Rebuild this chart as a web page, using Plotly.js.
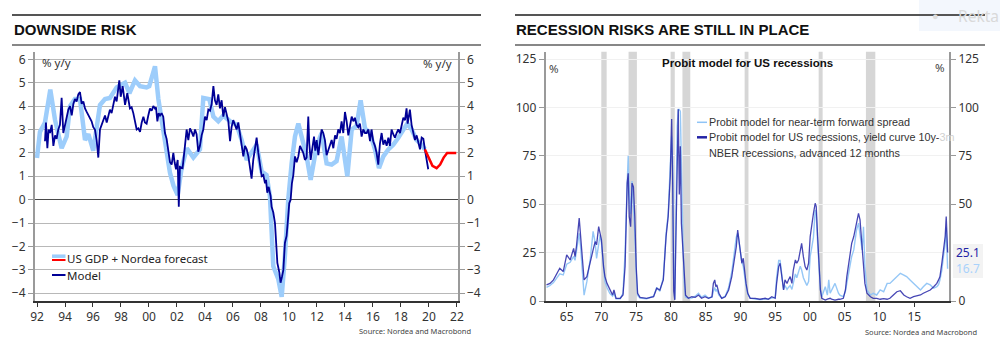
<!DOCTYPE html>
<html>
<head>
<meta charset="utf-8">
<script src="https://cdn.plot.ly/plotly-3.0.1.min.js"></script>
<style>html,body{margin:0;padding:0;background:#fff;}#chart{width:1000px;height:358px;}</style>
</head>
<body>
<div id="chart"></div>
<script>
// ---------- Left panel: DOWNSIDE RISK ----------
const gdpYears = [1992.0,1992.21,1992.57,1992.95,1993.29,1993.76,1994.12,1994.36,1994.71,1995.07,1995.43,1995.67,1996.02,1996.5,1996.86,1997.21,1997.69,1998.29,1998.6,1999.0,1999.36,1999.83,2000.02,2000.43,2000.67,2001.02,2001.5,2001.75,2002.05,2002.33,2002.7,2003.17,2003.64,2003.88,2004.31,2004.6,2004.95,2005.31,2005.79,2006.26,2006.62,2006.98,2007.33,2007.69,2008.05,2008.4,2008.64,2008.88,2009.24,2009.48,2009.71,2009.95,2010.19,2010.43,2010.67,2011.02,2011.26,2011.55,2011.98,2012.33,2012.69,2013.05,2013.4,2013.76,2014.17,2014.48,2014.83,2015.12,2015.43,2015.79,2016.14,2016.43,2016.74,2017.1,2017.45,2017.81,2018.17,2018.45,2018.76,2019.12,2019.48,2019.71];
const gdpValues = [1.78,2.9,3.3,4.7,3.4,2.2,2.7,4.0,4.3,4.3,2.55,2.8,2.1,4.05,4.3,4.35,4.8,5.0,4.55,5.1,4.85,4.8,4.85,5.7,4.3,2.85,1.15,0.6,0.2,1.35,2.2,1.8,2.15,4.35,4.3,3.55,3.35,3.6,3.35,3.2,2.55,1.7,2.0,2.35,1.2,1.05,0.15,-2.85,-3.4,-4.15,-2.4,0.0,1.55,2.7,3.25,2.5,1.85,0.85,2.3,2.85,1.55,1.5,1.65,2.7,1.0,3.0,3.15,4.25,3.05,2.85,2.15,1.35,1.85,2.15,2.35,2.65,3.0,3.25,3.0,2.55,2.35,2.15];

const forecastYears = [2019.71,2019.95,2020.25,2020.55,2020.8,2021.05,2021.3,2021.6,2021.95];
const forecastValues = [2.15,1.85,1.45,1.35,1.5,1.8,2.0,2.0,2.0];

const modelYears = [1992.57,1992.64,1992.74,1992.83,1992.93,1993.05,1993.17,1993.29,1993.4,1993.52,1993.64,1993.76,1993.88,1994.0,1994.12,1994.24,1994.36,1994.48,1994.6,1994.71,1994.83,1994.95,1995.07,1995.19,1995.31,1995.43,1995.55,1995.67,1995.79,1995.9,1996.02,1996.14,1996.26,1996.38,1996.5,1996.62,1996.74,1996.86,1996.98,1997.1,1997.21,1997.33,1997.45,1997.57,1997.69,1997.81,1997.88,1997.98,1998.12,1998.29,1998.45,1998.64,1998.76,1998.88,1999.0,1999.12,1999.24,1999.36,1999.48,1999.6,1999.71,1999.83,1999.95,2000.07,2000.19,2000.31,2000.43,2000.5,2000.6,2000.69,2000.79,2000.9,2001.02,2001.14,2001.26,2001.38,2001.5,2001.62,2001.74,2001.83,2001.93,2002.05,2002.13,2002.21,2002.4,2002.57,2002.69,2002.81,2002.93,2003.05,2003.17,2003.29,2003.4,2003.52,2003.64,2003.76,2003.88,2004.0,2004.12,2004.24,2004.36,2004.48,2004.6,2004.71,2004.83,2004.95,2005.07,2005.19,2005.31,2005.43,2005.55,2005.67,2005.79,2005.9,2006.02,2006.14,2006.26,2006.38,2006.5,2006.62,2006.74,2006.86,2006.98,2007.1,2007.21,2007.33,2007.45,2007.57,2007.69,2007.81,2007.93,2008.05,2008.17,2008.29,2008.36,2008.45,2008.55,2008.69,2008.76,2008.88,2009.0,2009.07,2009.17,2009.31,2009.4,2009.5,2009.6,2009.71,2009.83,2009.95,2010.02,2010.12,2010.21,2010.31,2010.43,2010.55,2010.67,2010.79,2010.9,2011.02,2011.14,2011.26,2011.38,2011.45,2011.55,2011.69,2011.79,2011.88,2011.98,2012.1,2012.21,2012.33,2012.45,2012.57,2012.69,2012.81,2012.93,2013.05,2013.17,2013.29,2013.4,2013.52,2013.64,2013.76,2013.88,2014.0,2014.12,2014.24,2014.36,2014.48,2014.6,2014.71,2014.83,2014.95,2015.07,2015.19,2015.31,2015.43,2015.55,2015.67,2015.79,2015.9,2016.02,2016.14,2016.26,2016.38,2016.5,2016.62,2016.74,2016.86,2016.98,2017.1,2017.21,2017.33,2017.45,2017.57,2017.69,2017.81,2017.93,2018.05,2018.17,2018.29,2018.4,2018.48,2018.57,2018.64,2018.76,2018.88,2019.0,2019.12,2019.24,2019.36,2019.48,2019.6,2019.71,2019.83,2019.95];
const modelValues = [2.5,3.3,2.2,3.0,2.85,3.2,2.3,2.75,2.6,3.0,3.2,4.35,2.85,3.2,3.6,3.85,4.0,3.6,4.1,4.3,4.2,4.5,4.6,4.1,4.2,3.9,3.75,3.6,3.45,3.35,3.1,3.0,2.55,1.8,3.0,3.2,3.4,3.6,3.3,3.55,3.85,3.7,4.1,4.4,4.2,4.7,5.1,4.4,4.85,4.05,4.55,3.9,3.95,3.7,3.4,3.0,3.05,2.9,3.3,3.55,3.3,3.25,3.6,3.9,3.8,4.0,3.9,3.95,3.35,3.7,3.6,3.7,3.55,2.85,2.6,2.15,1.6,1.5,2.0,1.6,1.3,1.7,-0.3,1.4,1.35,2.3,3.0,2.55,3.05,2.9,2.7,3.0,2.8,2.05,2.3,2.75,3.0,3.55,3.4,3.85,3.8,4.1,4.85,4.25,4.05,4.5,3.9,4.25,3.55,3.95,3.7,3.35,2.5,3.1,3.4,3.2,3.0,3.3,2.85,2.4,1.85,2.3,2.15,1.85,1.3,0.9,1.7,2.15,2.65,2.0,1.55,1.0,1.05,0.7,0.85,0.3,0.55,0.15,-0.3,-0.55,-1.0,-1.55,-2.7,-3.1,-3.55,-3.3,-3.0,-1.85,-1.55,-0.7,-0.15,0.0,0.7,1.05,1.85,1.6,1.85,2.3,2.15,2.0,1.7,1.8,3.55,2.4,1.7,2.3,2.7,2.1,2.55,1.9,2.5,3.0,2.85,2.55,1.9,2.15,2.3,2.55,2.2,2.75,2.6,3.0,2.85,3.35,2.85,3.75,3.35,2.75,3.15,3.55,3.35,3.5,3.2,3.1,3.25,2.7,3.0,2.85,2.85,3.0,2.5,3.0,2.5,2.3,2.0,1.5,2.4,2.85,2.35,2.55,2.3,2.65,2.3,3.0,2.8,2.65,2.85,3.0,2.85,3.2,3.5,3.4,3.9,3.25,3.55,3.85,3.2,2.9,2.55,2.75,2.4,2.15,2.65,2.6,2.15,1.8,1.3];

const leftTickVals = [1992,1994,1996,1998,2000,2002,2004,2006,2008,2010,2012,2014,2016,2018,2020,2022];
const leftTickText = ['92','94','96','98','00','02','04','06','08','10','12','14','16','18','20','22'];
const leftYTicks = [-4,-3,-2,-1,0,1,2,3,4,5,6];

// ---------- Right panel: RECESSION RISKS ----------
const probitYears = [1962.1,1962.6,1963.1,1963.6,1964.0,1964.5,1965.0,1965.5,1966.0,1966.2,1966.4,1966.8,1967.0,1967.3,1967.5,1967.9,1968.4,1968.8,1969.1,1969.3,1969.6,1969.8,1970.0,1970.3,1970.5,1970.8,1971.2,1971.6,1971.8,1972.1,1972.7,1973.1,1973.4,1973.7,1973.85,1974.0,1974.2,1974.4,1974.6,1974.8,1975.0,1975.2,1975.55,1976.5,1977.5,1977.95,1978.4,1978.9,1979.3,1979.6,1979.9,1980.1,1980.25,1980.4,1980.55,1980.75,1980.9,1981.05,1981.2,1981.35,1981.5,1981.7,1981.9,1982.1,1982.5,1983.0,1983.5,1983.96,1984.4,1984.9,1985.4,1985.9,1986.1,1986.3,1986.45,1986.6,1986.9,1987.3,1987.8,1988.3,1988.75,1989.1,1989.4,1989.6,1989.8,1990.0,1990.2,1990.4,1990.6,1990.8,1991.05,1991.4,1992.1,1992.8,1993.55,1994.0,1994.5,1995.0,1995.2,1995.5,1995.7,1995.95,1996.2,1996.4,1996.7,1996.9,1997.15,1997.4,1997.6,1997.9,1998.1,1998.35,1998.6,1998.8,1999.05,1999.3,1999.55,1999.8,2000.03,2000.27,2000.5,2000.75,2000.9,2001.1,2001.3,2001.5,2001.7,2002.2,2002.5,2002.7,2002.9,2003.1,2003.6,2004.1,2004.3,2004.8,2005.1,2005.3,2005.55,2005.8,2006.0,2006.3,2006.5,2006.7,2006.98,2007.2,2007.5,2007.7,2007.9,2008.2,2008.7,2009.1,2009.6,2010.1,2010.6,2011.1,2011.5,2012.0,2012.5,2013.0,2013.5,2013.9,2014.4,2014.9,2015.4,2015.9,2016.3,2016.8,2017.3,2017.8,2018.25,2018.5,2018.7,2018.97,2019.2,2019.45,2019.6,2019.7,2019.8];
const yieldCurveValues = [8.3,9.1,10.9,14.3,16.9,15.2,23.8,21.2,27.2,22.9,28.1,42.8,33.3,22.9,10.9,12.6,21.2,26.4,30.7,29.0,38.4,34.1,31.6,17.8,12.6,9.1,5.7,3.1,5.7,1.4,1.4,3.1,17.8,60.9,66,43.6,38.4,60.9,59,43.6,17.8,4.0,1.9,1.4,2.2,6.6,5.7,10.9,33.3,43.6,64.3,94,60,5,0.5,40,85,99,55,80,40,28,12,3,1.4,2.2,1.9,3.1,1.4,2.2,1.4,2.2,9.1,10.9,7.4,8.3,4.0,1.4,2.2,5.7,12.6,21.2,28.1,36.7,31.6,26.4,19.5,22.1,14.3,9.1,4.0,1.4,1.4,0.9,1.4,0.9,2.2,1.4,9.1,17.8,19.5,10.9,5.7,10.9,9.1,10.9,12.6,9.1,16.0,21.2,19.5,21.2,26.4,29.8,22.9,17.8,16,19.5,33.3,40.2,45.3,50.5,48.8,33.3,17.8,5.7,1.4,0.5,1.0,1.2,1.4,1.0,0.5,0.9,0.9,1.4,5.7,12.6,19.5,26.4,29.8,33.3,36.7,41.9,45.3,41.9,28.1,19.5,9.1,4.0,2.2,1.4,1.4,0.9,1.2,0.9,1.4,3.1,4.8,5.3,3.1,2.2,1.4,2.2,2.6,3.1,4.0,4.8,5.7,7.4,9.1,10.9,12.6,19.5,26.4,33.3,43.6,36.7,25.1];
const forwardSpreadValues = [7,8,9.5,12,14,13.5,19,20,23,21,25,35,28,15,3,10,22,36,30,22,28,34,30,18,10,7,4,2.5,4,1.2,1.2,4,25,60,75,55,45,62,50,35,15,3,1.5,1.2,2.5,7,5,12,35,45,70,85,70,10,1,50,90,99,99,98,60,35,10,2,1.5,1.5,2.5,4,2,3,1.5,2,5,7,5,6,3,1.5,2.5,7,15,25,33,35,30,25,20,18,12,8,3.5,1.5,1,0.7,1,1,1.5,2,12,21,21,12,6,8,6,7,8,6,10,14,12,15,18,16,12,10,8,10,23,28,33,47,45,30,15,6,2.2,7.4,3,10.9,4,5.7,9.1,4,3,2.2,5,9.1,14,19.5,23,26.4,32,36.7,40.2,33.3,26.4,38.4,17.8,5.7,3.1,4.0,3.1,5.7,4.8,9.1,9.1,10.9,12.6,14.3,13.4,12.6,10.9,9.1,7.4,5.7,7.4,9.1,8.3,6.6,7.4,8.5,10.9,16,23,29.8,38,30,16.7];

const recessionStart = [1969.98,1973.9,1979.95,1981.65,1990.6,2001.25,2008.05];
const recessionEnd   = [1970.75,1975.1,1980.55,1982.78,1991.15,2001.82,2009.4];

const rightTickVals = [1965,1970,1975,1980,1985,1990,1995,2000,2005,2010,2015];
const rightTickText = ['65','70','75','80','85','90','95','00','05','10','15'];
const rightYTicks = [0,25,50,75,100,125];
const rightYTicksOuter = [0,50,75,100,125];
const lastLabels = [25.1, 16.7];

// ---------- helpers (pixel -> paper) ----------
const W = 1000, H = 358;
const X = p => p / W;
const Y = p => 1 - p / H;

const FONT = 'Noto Sans, Liberation Sans, Arial, sans-serif';
const TITLEFONT = 'Liberation Sans, Arial, sans-serif';
const NAVY = '#000096';
const LIGHT = '#9dcdfb';
const yDom = [Y(301), Y(51.7)];

const traces = [
  {x: gdpYears, y: gdpValues, xaxis: 'x', yaxis: 'y', mode: 'lines',
   line: {color: LIGHT, width: 4.5}, hoverinfo: 'skip'},
  {x: modelYears, y: modelValues, xaxis: 'x', yaxis: 'y', mode: 'lines',
   line: {color: NAVY, width: 1.8}, hoverinfo: 'skip'},
  {x: forecastYears, y: forecastValues, xaxis: 'x', yaxis: 'y2', mode: 'lines',
   line: {color: '#ff0000', width: 2.5}, hoverinfo: 'skip'},
  {x: probitYears, y: forwardSpreadValues, xaxis: 'x3', yaxis: 'y3', mode: 'lines',
   line: {color: '#8fc4f6', width: 1.4}, opacity: 0.95, hoverinfo: 'skip'},
  {x: probitYears, y: yieldCurveValues, xaxis: 'x3', yaxis: 'y4', mode: 'lines',
   line: {color: '#2727a8', width: 1.3}, opacity: 0.85, hoverinfo: 'skip'}
];

const tickFont = {family: FONT, size: 12, color: '#333'};

const shapes = [];
// heading rules
[[12, 481], [515, 985]].forEach(([a, b]) => {
  shapes.push({type: 'line', xref: 'paper', yref: 'paper', x0: X(a), x1: X(b), y0: Y(15), y1: Y(15), line: {color: '#555', width: 2}});
  shapes.push({type: 'line', xref: 'paper', yref: 'paper', x0: X(a), x1: X(b), y0: Y(45), y1: Y(45), line: {color: '#111', width: 1.2}});
});
// recession bands
recessionStart.forEach((s, i) => {
  shapes.push({type: 'rect', xref: 'x3', yref: 'paper', x0: s, x1: recessionEnd[i], y0: yDom[0], y1: yDom[1],
    fillcolor: '#d6d6d6', line: {width: 0}, layer: 'below'});
});
// left legend symbols
shapes.push({type: 'line', xref: 'paper', yref: 'paper', x0: X(52), x1: X(65.5), y0: Y(256.2), y1: Y(256.2), line: {color: LIGHT, width: 3.5}});
shapes.push({type: 'line', xref: 'paper', yref: 'paper', x0: X(52), x1: X(65.5), y0: Y(260), y1: Y(260), line: {color: '#ff0000', width: 2}});
shapes.push({type: 'line', xref: 'paper', yref: 'paper', x0: X(52), x1: X(65.5), y0: Y(275), y1: Y(275), line: {color: NAVY, width: 2}});
// right legend symbols
shapes.push({type: 'line', xref: 'paper', yref: 'paper', x0: X(697), x1: X(707), y0: Y(122.3), y1: Y(122.3), line: {color: '#8fc4f6', width: 1.5}});
shapes.push({type: 'line', xref: 'paper', yref: 'paper', x0: X(697), x1: X(707), y0: Y(137.3), y1: Y(137.3), line: {color: '#2323a6', width: 2.5}});
// faint UI overlay at top right
shapes.push({type: 'rect', xref: 'paper', yref: 'paper', x0: X(919), x1: X(1000), y0: Y(31), y1: Y(0), fillcolor: '#f3f7fd', line: {width: 0}, layer: 'below'});
// light box behind the last-value labels
shapes.push({type: 'rect', xref: 'paper', yref: 'paper', x0: X(953), x1: X(983), y0: Y(278), y1: Y(244), fillcolor: '#f3f3f3', line: {width: 0}, layer: 'below'});

const ann = (text, px, py, opts = {}) => Object.assign({
  text, x: X(px), y: Y(py), xref: 'paper', yref: 'paper', showarrow: false,
  xanchor: 'left', yanchor: 'middle', font: {family: FONT, size: 12, color: '#333'}
}, opts);

const LEGFONT = {family: TITLEFONT, size: 10.8, color: '#333'};

const annotations = [
  ann('<b>DOWNSIDE RISK</b>', 12, 29, {font: {family: TITLEFONT, size: 15, color: '#111'}}),
  ann('<b>RECESSION RISKS ARE STILL IN PLACE</b>', 514, 29, {font: {family: TITLEFONT, size: 15, color: '#111'}}),
  ann('% y/y', 40, 62.5, {font: {family: FONT, size: 11.5, color: '#333'}}),
  ann('% y/y', 454, 63, {xanchor: 'right', font: {family: FONT, size: 11.5, color: '#333'}}),
  ann('US GDP + Nordea forecast', 64.5, 258, {font: {family: FONT, size: 11.5, color: '#222'}}),
  ann('Model', 64.5, 275, {font: {family: FONT, size: 11.5, color: '#222'}}),
  ann('Source: Nordea and Macrobond', 473, 330.5, {xanchor: 'right', font: {family: FONT, size: 7.5, color: '#444'}}),
  ann('<b>Probit model for US recessions</b>', 747.5, 63, {xanchor: 'center', font: {family: TITLEFONT, size: 11.5, color: '#111'}}),
  ann('%', 547, 68, {font: {family: FONT, size: 11.5, color: '#444'}}),
  ann('%', 947, 67, {xanchor: 'right', font: {family: FONT, size: 11.5, color: '#444'}}),
  ann('Probit model for near-term forward spread', 707, 122.3, {font: LEGFONT}),
  ann('Probit model for US recessions, yield curve 10y-<span style="color:#d0d0d0">3m</span>', 707, 137.3, {font: LEGFONT}),
  ann('NBER recessions, advanced 12 months', 707, 153.3, {font: LEGFONT}),
  ann('Source: Nordea and Macrobond', 978.5, 331.5, {xanchor: 'right', font: {family: FONT, size: 7.5, color: '#444'}}),
  {text: String(lastLabels[0]), xref: 'paper', yref: 'y4', x: X(954), y: lastLabels[0], showarrow: false,
   xanchor: 'left', yanchor: 'middle', font: {family: FONT, size: 12, color: '#2323a6'}},
  {text: String(lastLabels[1]), xref: 'paper', yref: 'y4', x: X(954), y: lastLabels[1], showarrow: false,
   xanchor: 'left', yanchor: 'middle', font: {family: FONT, size: 12, color: '#a9d2fb'}},
  ann('●', 930, 15, {font: {family: FONT, size: 11, color: '#dedede'}}),
  ann('Rekta', 956, 16, {font: {family: FONT, size: 15.5, color: '#d9d9d9'}})
];

const baseY = {
  domain: yDom, tickfont: tickFont, ticks: 'outside', ticklen: 5, tickcolor: '#999',
  showline: true, linecolor: '#9a9a9a', linewidth: 2, fixedrange: true
};

const layout = {
  width: W, height: H,
  margin: {l: 0, r: 0, t: 0, b: 0},
  paper_bgcolor: '#fff', plot_bgcolor: 'rgba(0,0,0,0)',
  showlegend: false,
  font: {family: FONT},
  xaxis: {
    domain: [X(35), X(457.5)], range: [1991.857, 2022.04], anchor: 'y',
    tickvals: leftTickVals, ticktext: leftTickText, tickfont: tickFont,
    ticks: 'outside', ticklen: 4, tickcolor: '#333', showgrid: false, zeroline: false,
    showline: true, linecolor: '#333', linewidth: 1.5, fixedrange: true
  },
  yaxis: Object.assign({}, baseY, {
    anchor: 'x', range: [-4.33, 6.325], tickvals: leftYTicks,
    showgrid: true, gridcolor: '#b8b8b8', gridwidth: 1,
    zeroline: true, zerolinecolor: '#4a4a4a', zerolinewidth: 1.5
  }),
  yaxis2: Object.assign({}, baseY, {
    anchor: 'x', overlaying: 'y', side: 'right', range: [-4.33, 6.325], tickvals: leftYTicks,
    showgrid: false, zeroline: false
  }),
  xaxis3: {
    domain: [X(545.7), X(949)], range: [1961.98, 2020.0], anchor: 'y3',
    tickvals: rightTickVals, ticktext: rightTickText, tickfont: tickFont,
    ticks: 'outside', ticklen: 4, tickcolor: '#333', showgrid: false, zeroline: false,
    showline: true, linecolor: '#333', linewidth: 1.5, fixedrange: true
  },
  yaxis3: Object.assign({}, baseY, {
    anchor: 'x3', range: [0, 128.8], tickvals: rightYTicks,
    showgrid: true, gridcolor: '#f1f1f1', gridwidth: 1, zeroline: false
  }),
  yaxis4: Object.assign({}, baseY, {
    anchor: 'x3', overlaying: 'y3', side: 'right', range: [0, 128.8], tickvals: rightYTicksOuter,
    showgrid: false, zeroline: false
  }),
  shapes, annotations
};

Plotly.newPlot('chart', traces, layout, {displayModeBar: false, staticPlot: true});
</script>
</body>
</html>
